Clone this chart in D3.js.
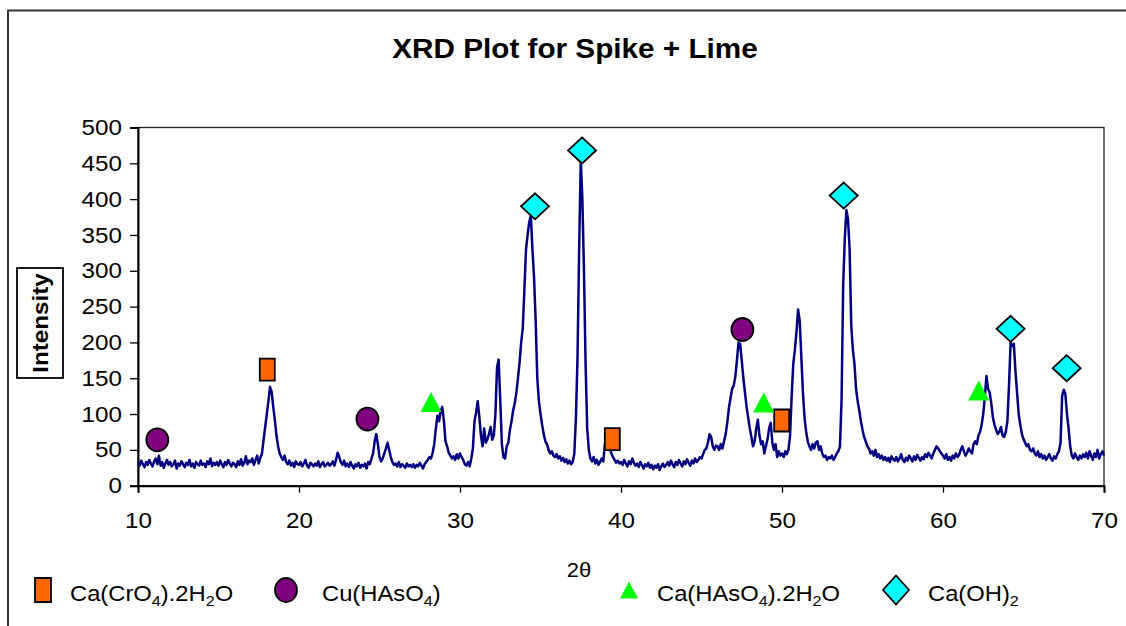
<!DOCTYPE html>
<html><head><meta charset="utf-8">
<script src="https://cdn.jsdelivr.net/npm/d3@7"></script>
<style>
html,body{margin:0;padding:0;background:#fff;}
svg{display:block;font-family:"Liberation Sans",Arial,sans-serif;}
</style>
</head><body>
<svg id="chart" width="1126" height="626"></svg>
<script>
// ---- data ----
const chartTitle = "XRD Plot for Spike + Lime";
const xLabel = "2θ";
const yLabel = "Intensity";
const angleStart = 10;
const angleStep = 0.1;
// intensity read at every 0.1° from 10.0° to 70.0°
const intensity = [
 32,28,35,30,26,33,29,36,31,27,
 34,38,30,42,28,33,25,31,36,29,
 33,27,30,35,24,31,28,34,30,26,
 32,29,36,27,31,25,33,30,28,35,
 29,31,26,34,30,38,27,32,29,33,
 28,35,30,26,33,29,36,31,27,32,
 30,26,34,29,37,28,32,41,30,35,
 33,38,29,36,42,31,39,45,64,82,
 100,118,138,131,110,92,70,55,45,40,
 36,42,33,30,35,28,32,26,34,30,
 29,33,27,31,36,28,25,32,30,27,
 31,28,34,26,30,33,27,29,32,28,
 30,34,28,36,46,40,33,29,35,27,
 31,26,33,28,24,30,27,32,25,29,
 27,31,24,33,30,38,45,62,72,58,
 40,34,38,45,52,60,50,40,33,29,
 31,27,33,26,30,28,25,31,27,29,
 26,30,25,29,27,32,28,24,30,33,
 36,40,38,46,58,80,98,90,104,110,
 90,62,55,46,42,38,41,36,44,38,
 45,40,36,30,28,33,27,38,52,90,
 102,118,96,70,55,80,60,65,72,82,
 64,70,100,165,176,120,58,40,38,55,
 60,78,90,105,115,130,150,172,200,220,
 275,330,350,368,377,330,290,230,150,118,
 100,85,72,62,58,50,45,48,42,40,
 44,38,41,35,39,33,37,31,35,30,
 33,45,95,180,330,455,400,300,170,80,
 50,38,34,40,31,36,29,33,38,34,
 58,62,50,55,45,40,36,32,35,31,
 33,29,36,31,27,34,30,38,32,28,
 31,26,33,29,24,30,27,32,25,29,
 23,28,25,30,22,27,31,26,29,33,
 28,35,30,26,33,29,36,31,27,34,
 30,37,32,28,35,31,38,33,36,40,
 38,44,50,52,60,72,68,55,50,56,
 55,50,58,52,62,72,88,108,122,135,
 140,152,175,200,198,175,150,130,110,95,
 80,68,55,62,80,92,70,58,62,45,
 55,65,80,88,60,50,58,40,48,42,
 45,40,48,44,50,70,125,170,190,215,
 246,230,180,130,95,75,62,55,50,58,
 52,60,62,50,55,45,40,42,36,40,
 38,42,36,40,45,48,55,120,280,345,
 385,372,330,225,190,170,135,118,105,90,
 78,68,62,55,52,45,48,42,50,40,
 44,38,42,36,40,35,39,33,41,37,
 35,40,34,38,44,36,33,39,35,42,
 38,34,41,36,43,39,35,40,37,44,
 40,46,42,38,45,50,55,52,48,45,
 42,38,44,36,40,35,42,38,45,40,
 43,50,55,48,42,46,52,48,45,58,
 62,58,70,75,85,100,125,153,135,130,
 115,95,85,78,72,75,82,70,68,75,
 90,140,200,195,198,160,130,100,85,72,
 65,60,55,58,50,48,52,45,42,48,
 40,44,38,42,36,40,44,38,35,41,
 38,44,48,60,125,134,128,100,80,55,
 42,38,45,40,36,42,38,44,40,46,
 38,48,42,36,45,40,50,38,44,48,
 42
];
const xTicks = [10,20,30,40,50,60,70];
const yTicks = [0,50,100,150,200,250,300,350,400,450,500];

// phase markers [2θ, intensity]
const caCrO4 = [[18.03,162],[39.46,65],[49.98,91]];
const cuHAsO4 = [[11.2,64],[24.25,93],[47.54,218]];
const caHAsO4 = [[28.2,117],[48.86,116],[62.22,133]];
const caOH2 = [[34.66,390],[37.58,468],[53.83,405],[64.2,219],[67.68,164]];
const seriesNames = ["Ca(CrO{4}).2H{2}O","Cu(HAsO{4})","Ca(HAsO{4}).2H{2}O","Ca(OH){2}"];
const seriesColors = ["#FF6600","#800080","#00FF00","#00FFFF"];
const seriesShapes = ["square","circle","triangle","diamond"];

// ---- drawing ----
const svg = d3.select("#chart");
const x = d3.scaleLinear().domain([10,70]).range([138,1104]);
const y = d3.scaleLinear().domain([0,500]).range([485.7,127.5]);

function stretch(sel, f){
  sel.each(function(){
    const L = this.getComputedTextLength();
    d3.select(this).attr("textLength", L*f).attr("lengthAdjust","spacingAndGlyphs");
  });
}

// outer frame
svg.append("path").attr("d","M8,626V10.5H1126").attr("fill","none").attr("stroke","#333").attr("stroke-width",2);

// title
const t = svg.append("text").attr("x",575).attr("y",58).attr("text-anchor","middle")
  .attr("font-size",27).attr("font-weight","bold").attr("fill","#000").text(chartTitle);
stretch(t,1.1);

// plot box
svg.append("rect").attr("x",x(10)).attr("y",y(500)).attr("width",x(70)-x(10)).attr("height",y(0)-y(500))
  .attr("fill","none").attr("stroke","#222").attr("stroke-width",1.3);

// axes
const gy = svg.append("g").attr("transform",`translate(${x(10)},0)`)
  .call(d3.axisLeft(y).tickValues(yTicks).tickSize(8).tickPadding(8).tickFormat(d3.format("d")));
const gx = svg.append("g").attr("transform",`translate(0,${y(0)})`)
  .call(d3.axisBottom(x).tickValues(xTicks).tickSize(7).tickPadding(20).tickFormat(d3.format("d")));
[gx,gy].forEach(g=>{
  g.select(".domain").attr("stroke","#000").attr("stroke-width",2);
  g.selectAll(".tick line").attr("stroke","#000").attr("stroke-width",1.3);
  g.selectAll("text").attr("font-size",22).attr("font-family","Liberation Sans, Arial, sans-serif").attr("fill","#000");
});
stretch(gx.selectAll("text"),1.1);
stretch(gy.selectAll("text"),1.1);

// line
const line = d3.line().x((d,i)=>x(angleStart+i*angleStep)).y(d=>y(d));
svg.append("path").datum(intensity).attr("d",line).attr("fill","none")
  .attr("stroke","#000080").attr("stroke-width",2.5).attr("stroke-linejoin","round");

// markers
function shapePath(shape, w, h){
  const a=w/2,b=h/2;
  if(shape==="square") return `M${-a},${-b}H${a}V${b}H${-a}Z`;
  if(shape==="diamond") return `M0,${-b}L${a},0L0,${b}L${-a},0Z`;
  if(shape==="triangle") return `M0,${-b}L${a},${b}L${-a},${b}Z`;
  return `M${-a},0A${a},${b} 0 1,0 ${a},0A${a},${b} 0 1,0 ${-a},0Z`;
}
const plotSizes = {square:[15,22],circle:[22,23],triangle:[21,20],diamond:[28,26]};
const legendSizes = {square:[16,24],circle:[22,24],triangle:[18,17],diamond:[26,29]};
const seriesData = [caCrO4,cuHAsO4,caHAsO4,caOH2];
seriesData.forEach((pts,k)=>{
  const shape = seriesShapes[k];
  const sz = plotSizes[shape];
  svg.append("g").selectAll("path").data(pts).join("path")
    .attr("transform",d=>`translate(${x(d[0])},${y(d[1])})`)
    .attr("d",shapePath(shape,sz[0],sz[1]))
    .attr("fill",seriesColors[k])
    .attr("stroke",shape==="triangle"?"none":"#000")
    .attr("stroke-width",1.8);
});

// axis titles
const xt = svg.append("text").attr("x",579).attr("y",577).attr("text-anchor","middle")
  .attr("font-size",21).attr("fill","#000").text(xLabel);
stretch(xt,1.05);
svg.append("rect").attr("x",17).attr("y",268).attr("width",46).attr("height",110)
  .attr("fill","#fff").attr("stroke","#000").attr("stroke-width",1.8);
const yt = svg.append("text").attr("transform","translate(48,323) rotate(-90)").attr("text-anchor","middle")
  .attr("font-size",22).attr("font-weight","bold").attr("fill","#000").text(yLabel);
stretch(yt,1.1);

// legend
const legendX = [43,286,629,896];
const legendTextX = [70,322,657,928];
const legendY = 590;
seriesNames.forEach((name,k)=>{
  const shape = seriesShapes[k];
  const sz = legendSizes[shape];
  svg.append("path").attr("transform",`translate(${legendX[k]},${legendY})`)
    .attr("d",shapePath(shape,sz[0],sz[1])).attr("fill",seriesColors[k])
    .attr("stroke",shape==="triangle"?"none":"#000").attr("stroke-width",1.8);
  const tx = svg.append("text").attr("x",legendTextX[k]).attr("y",601).attr("font-size",22).attr("fill","#000");
  let shifted = false;
  name.split(/(\{[^}]*\})/).filter(s=>s.length).forEach(part=>{
    if(part[0]==="{"){
      tx.append("tspan").attr("font-size",15).attr("dy",shifted?0:5).text(part.slice(1,-1));
      shifted = true;
    } else {
      tx.append("tspan").attr("dy",shifted?-5:0).text(part);
      shifted = false;
    }
  });
  stretch(tx,1.08);
});
</script>
</body></html>
